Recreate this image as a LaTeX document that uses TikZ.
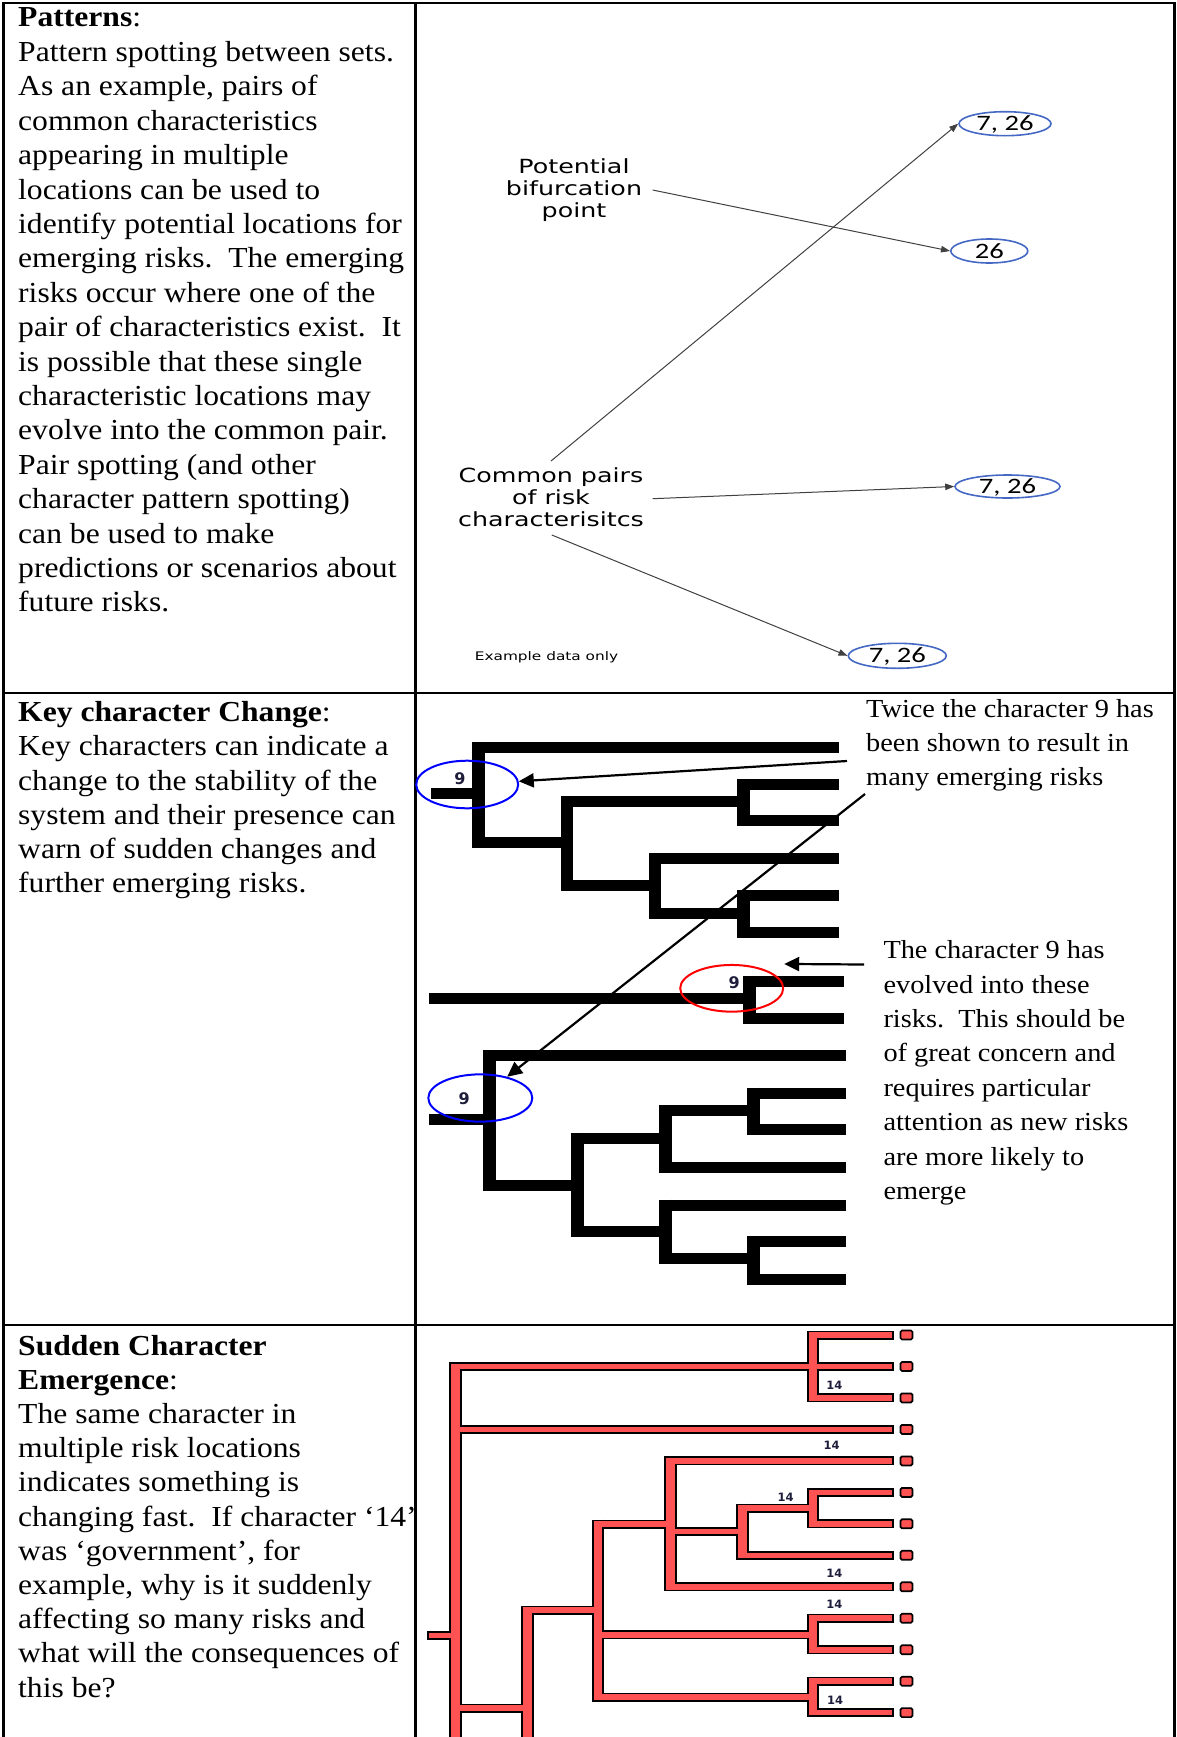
\documentclass[tikz,border=0pt]{standalone}
\usepackage{fontspec}
\setmainfont{Liberation Serif}[FakeStretch=1.09]
\newfontfamily\lblfont{DejaVu Sans}[FakeStretch=1.3]
\newfontfamily\numfont{Carlito}[FakeStretch=1.3]
\newfontfamily\tagfont{DejaVu Sans}
\usetikzlibrary{arrows.meta,shapes.geometric}

\definecolor{ovalblue}{RGB}{68,104,196}
\definecolor{arrowgray}{RGB}{64,64,64}
\definecolor{treered}{RGB}{255,82,82}
\definecolor{tagink}{RGB}{30,30,60}

% black dendrogram pieces: horizontal {y}{x1}{x2}, vertical {x}{y1}{y2}
\newcommand\bkH[3]{\draw[bkh] (#2,#1) -- (#3,#1);}
\newcommand\bkV[3]{\draw[bkv] (#1,{#2-5.5}) -- (#1,{#3+5.5});}

% outlined red tree: {colour}{vertical width}{horizontal width}{extension}{leaf end}{stub start}
\newcommand\redTree[6]{%
  \foreach \x/\ya/\yb in {455.5/1366.5/1745, 527.5/1610/1745, 598.3/1524/1697,
      670.5/1460.9/1586.8, 742.5/1508/1555.3, 813.3/1335/1397.9,
      813.3/1492.4/1523.8, 813.3/1618.2/1649.7, 813.3/1681.2/1712.6}
    \draw[draw=#1, line width=#2] (\x,{\ya-#4}) -- (\x,{\yb+#4});
  \foreach \y/\xa/\xb in {1708/455.5/527.5, 1610/527.5/598.3, 1524/598.3/670.5,
      1531.3/670.5/742.5, 1508/742.5/813.3, 1634.7/598.3/813.3, 1697/598.3/813.3}
    \draw[draw=#1, line width=#3] (\xa,\y) -- (\xb,\y);
  \foreach \y/\xa in {1335/813.3, 1366.5/455.5, 1397.9/813.3, 1429.4/455.5,
      1460.9/670.5, 1492.4/813.3, 1523.8/813.3, 1555.3/742.5, 1586.8/670.5,
      1618.2/813.3, 1649.7/813.3, 1681.2/813.3, 1712.6/813.3}
    \draw[draw=#1, line width=#3] (\xa,\y) -- (#5,\y);
  \draw[draw=#1, line width=#3] (#6,1635.5) -- (455.5,1635.5);
}

\begin{document}
\begin{tikzpicture}[x=1pt,y=-1pt,
  body/.style={anchor=base west, inner sep=0, font=\fontsize{29}{34.4}\selectfont},
  note/.style={anchor=base west, inner sep=0, font=\fontsize{26}{34}\selectfont},
  lbl/.style={align=center, inner sep=0, font=\lblfont\fontsize{19.5}{21.8}\selectfont},
  pell/.style={ellipse, draw=ovalblue, line width=1.6, inner sep=0,
    text height=14, text depth=0,
    font=\numfont\fontsize{22}{24}\selectfont},
  parr/.style={draw=arrowgray, line width=1, -{Triangle[length=9pt,width=6.5pt]}},
  karr/.style={line width=2.2, -{Triangle[length=15pt,width=14pt]}},
  tbl/.style={line width=2.2},
  bkh/.style={line width=11},
  bkv/.style={line width=12.7},
  ring/.style={ellipse, line width=2, inner sep=0},
  nine/.style={inner sep=0, text=tagink,
    font=\tagfont\bfseries\fontsize{16}{16}\selectfont},
  ftn/.style={inner sep=0, text=tagink,
    font=\tagfont\bfseries\fontsize{11.5}{12}\selectfont},
  leafbox/.style={draw, line width=1.7, fill=treered, rounded corners=1.5,
    minimum width=12, minimum height=9, inner sep=0}]

\useasboundingbox (0,0) rectangle (1176,1737);
\clip (0,0) rectangle (1176,1737);

% ---------- table rules ----------
\draw[tbl] (3.5,3) -- (1174.5,3);
\draw[tbl] (3.5,2) -- (3.5,1740);
\draw[tbl] (415.5,2) -- (415.5,1740);
\draw[tbl] (1174.5,2) -- (1174.5,1740);
\draw[tbl] (3.5,692.7) -- (1174.5,692.7);
\draw[tbl] (3.5,1325) -- (1174.5,1325);

% ---------- left column text ----------
\foreach \row [count=\i from 0] in {{\textbf{Patterns}:}, {Pattern spotting between sets.},
    {As an example, pairs of}, {common characteristics}, {appearing in multiple},
    {locations can be used to}, {identify potential locations for},
    {emerging risks.\ \ The emerging}, {risks occur where one of the},
    {pair of characteristics exist.\ \ It}, {is possible that these single},
    {characteristic locations may}, {evolve into the common pair.},
    {Pair spotting (and other}, {character pattern spotting)},
    {can be used to make}, {predictions or scenarios about}, {future risks.}}
  \node[body] (pat\i) at (18,{27+34.4*\i}) {\row};

\foreach \row [count=\i from 0] in {{\textbf{Key character Change}:},
    {Key characters can indicate a}, {change to the stability of the},
    {system and their presence can}, {warn of sudden changes and},
    {further emerging risks.}}
  \node[body] (key\i) at (18,{721.7+34.2*\i}) {\row};

\foreach \row [count=\i from 0] in {{\textbf{Sudden Character}}, {\textbf{Emergence}:},
    {The same character in}, {multiple risk locations}, {indicates something is},
    {changing fast.\ \ If character ‘14’}, {was ‘government’, for},
    {example, why is it suddenly}, {affecting so many risks and},
    {what will the consequences of}, {this be?}}
  \node[body] (sud\i) at (18,{1355+34.2*\i}) {\row};

% ---------- patterns diagram ----------
\node[lbl] (bif) at (574,190) {Potential\\bifurcation\\point};
\node[lbl] (pairs) at (551,497) {Common pairs\\of risk\\characterisitcs};
\node[inner sep=0, font=\lblfont\fontsize{11.8}{14}\selectfont] (exdata) at (546.5,657) {Example data only};

\node[pell, minimum width=92, minimum height=24] (eTop) at (1005,123.7) {7, 26};
\node[pell, minimum width=77, minimum height=24] (eSix) at (989.3,251) {26};
\node[pell, minimum width=105, minimum height=23] (eMid) at (1007.5,486.5) {7, 26};
\node[pell, minimum width=98, minimum height=25] (eBot) at (897.3,655.8) {7, 26};

\coordinate (bifOut) at (652.6,190);
\coordinate (pairsUp) at (551,461);
\coordinate (pairsRight) at (652.6,498.7);
\coordinate (pairsDown) at (551.8,535);

\draw[parr] (bifOut) -- (eSix.west);
\draw[parr] (pairsUp) -- (eTop.west);
\draw[parr] (pairsRight) -- (eMid.west);
\draw[parr] (pairsDown) -- (eBot.west);

% ---------- key character dendrograms ----------
% upper tree
\bkV{478.7}{747.2}{842.5}
\bkH{747.2}{478.7}{839}
\bkH{793.5}{431}{478.7}
\bkH{842.5}{478.7}{567}
\bkV{567}{801.7}{885.8}
\bkH{801.7}{567}{743.3}
\bkV{743.3}{784.2}{820.8}
\bkH{784.2}{743.3}{839}
\bkH{820.8}{743.3}{839}
\bkH{885.8}{567}{655}
\bkV{655}{858.8}{913.2}
\bkH{858.8}{655}{839}
\bkH{913.2}{655}{743.3}
\bkV{743.3}{895.8}{932.5}
\bkH{895.8}{743.3}{839}
\bkH{932.5}{743.3}{839}
% middle pair
\bkH{998.3}{429}{749.5}
\bkV{749.5}{981.3}{1018}
\bkH{981.3}{749.5}{844}
\bkH{1018}{749.5}{844}
% lower tree
\bkV{489.3}{1055.8}{1185}
\bkH{1055.8}{489.3}{845.7}
\bkH{1119.7}{429}{489.3}
\bkH{1185}{489.3}{577.3}
\bkV{577.3}{1138.2}{1231.5}
\bkH{1138.2}{577.3}{665.5}
\bkV{665.5}{1110.8}{1167.2}
\bkH{1167.2}{665.5}{845.7}
\bkH{1110.8}{665.5}{753.3}
\bkV{753.3}{1093.2}{1129.8}
\bkH{1093.2}{753.3}{845.7}
\bkH{1129.8}{753.3}{845.7}
\bkH{1231.5}{577.3}{665.5}
\bkV{665.5}{1205}{1258.7}
\bkH{1205}{665.5}{845.7}
\bkH{1258.7}{665.5}{753.3}
\bkV{753.3}{1241.7}{1279.5}
\bkH{1241.7}{753.3}{845.7}
\bkH{1279.5}{753.3}{845.7}

\node[nine] (nineA) at (460,778.3) {9};
\node[nine] (nineB) at (734.3,982.7) {9};
\node[nine] (nineC) at (464.3,1098.3) {9};

\node[ring, draw=blue, minimum width=102, minimum height=47.6] (ringA) at (467.2,784.5) {};
\node[ring, draw=red, minimum width=103, minimum height=46.7] (ringB) at (731.7,988.3) {};
\node[ring, draw=blue, minimum width=104, minimum height=47.3] (ringC) at (480.3,1098) {};

\foreach \row [count=\i from 0] in {{Twice the character 9 has},
    {been shown to result in}, {many emerging risks}}
  \node[note] (twice\i) at (866,{717.5+34*\i}) {\row};
\foreach \row [count=\i from 0] in {{The character 9 has}, {evolved into these},
    {risks.\ \ This should be}, {of great concern and}, {requires particular},
    {attention as new risks}, {are more likely to}, {emerge}}
  \node[note] (evol\i) at (883.3,{958.6+34.4*\i}) {\row};

\coordinate (twiceTail) at (847,761);
\coordinate (twiceTail2) at (865,794);
\coordinate (evolTail) at (864,964.5);
\draw[karr] (twiceTail) -- (ringA);
\draw[karr] (twiceTail2) -- (ringC);
\draw[karr] (evolTail) -- (ringB.east |- ringB.north);

% ---------- sudden emergence tree ----------
\redTree{black}{12.3}{9}{4.5}{893.7}{427}
\redTree{treered}{8.3}{5.6}{2.8}{892}{429}

\foreach \y [count=\i from 0] in {1335, 1366.5, 1397.9, 1429.4, 1460.9, 1492.4,
    1523.8, 1555.3, 1586.8, 1618.2, 1649.7, 1681.2, 1712.6}
  \node[leafbox] (box\i) at (906.5,\y) {};

\node[ftn] (ft1) at (834.3,1385) {14};
\node[ftn] (ft2) at (831.7,1445) {14};
\node[ftn] (ft3) at (785.7,1497) {14};
\node[ftn] (ft4) at (834.3,1573.3) {14};
\node[ftn] (ft5) at (834.3,1604) {14};
\node[ftn] (ft6) at (835,1700) {14};

\end{tikzpicture}
\end{document}
